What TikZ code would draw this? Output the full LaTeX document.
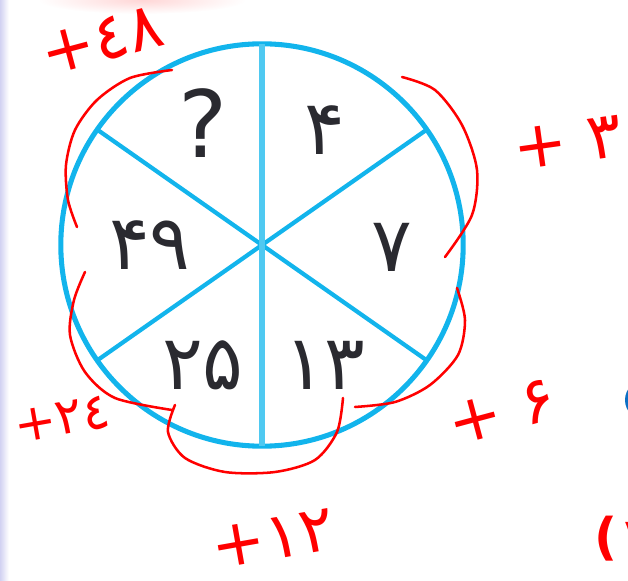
\documentclass[tikz,border=0pt]{standalone}
\usepackage{fontspec}
\usepackage{xcolor}
\usepackage{tikz}
\newfontfamily\fadigits{DejaVu Sans}
\definecolor{cielo}{HTML}{12B4EC}
\definecolor{cielochiaro}{HTML}{4FC9F1}
\definecolor{inchiostro}{HTML}{2A2A30}
\definecolor{lavanda}{HTML}{D2D2F2}
\definecolor{bluscuro}{HTML}{0B6FC4}

\begin{document}
\begin{tikzpicture}[
    rim/.style={draw=cielo,line width=3.6pt},
    spoke/.style={draw=cielo,line width=3pt},
    num/.style={text=inchiostro,font=\fadigits\fontsize{54}{54}\selectfont},
    pen/.style={red,line width=1.8pt,line cap=round},
    note/.style={text=red,font=\fadigits\fontsize{46}{46}\selectfont}]
  \useasboundingbox (-6.55,-8.4) rectangle (9.15,6.125);
  % page edges
  \shade[left color=lavanda,right color=white] (-6.55,-8.4) rectangle (-6.33,6.125);
  \shade[inner color=red!16,outer color=white] (-3.0,6.125) ellipse (2.6 and 0.35);
  \fill[bluscuro] (9.575,-3.875) circle (0.5);
  \node[text=red,font=\fadigits\bfseries\fontsize{36}{36}\selectfont,anchor=west] (pagenum) at (8.2,-7.35) {(۱};
  % the wheel
  \coordinate (c) at (0,0);
  \draw[rim] (c) circle (5.03);
  \foreach \a in {35,145,215,325}
    \draw[spoke] (c) -- (\a:5.03);
  \draw[spoke,draw=cielochiaro,line width=4.5pt] (c) -- (90:5.03);
  \draw[spoke,draw=cielochiaro,line width=4.5pt] (c) -- (270:5.03);
  \node[num,font=\fadigits\fontsize{66}{66}\selectfont] (q) at (-1.475,3.05) {?};
  \node[num] (n4) at (1.575,2.875) {۴};
  \node[num] (n7) at (3.25,-0.05) {۷};
  \node[num] (n13) at (1.575,-3.0) {۱۳};
  \node[num] (n25) at (-1.475,-3.0) {۲۵};
  \node[num] (n49) at (-2.8,0) {۴۹};
  % red notes
  \draw[pen] plot[smooth] coordinates {(3.5,4.2) (4.325,3.875) (5.0,3.0) (5.375,1.875) (5.25,0.75) (4.575,-0.3)};
  \draw[pen] plot[smooth] coordinates {(4.875,-1.075) (5.075,-1.875) (4.9,-2.75) (4.2,-3.5) (3.325,-3.925) (2.325,-4.05)};
  \draw[pen] plot[smooth] coordinates {(2.025,-3.825) (1.875,-4.675) (1.325,-5.375) (0.325,-5.675) (-0.925,-5.675) (-1.925,-5.325) (-2.35,-4.675) (-2.175,-4.0)};
  \draw[pen] plot[smooth] coordinates {(-2.25,-4.125) (-3.675,-3.825) (-4.425,-3.175) (-4.8,-2.25) (-4.7,-1.375) (-4.425,-0.675)};
  \draw[pen] plot[smooth] coordinates {(-4.625,0.45) (-4.85,1.125) (-4.9,2.0) (-4.675,2.875) (-4.125,3.625) (-3.3,4.175) (-2.25,4.375)};
  \node[note,rotate=8] (d3) at (7.65,2.55) {+ ۳};
  \node[note,rotate=15] (d6) at (6.0,-4.175) {+ ۶};
  \node[note,rotate=10] (d12) at (0.275,-7.35) {+۱۲};
  \node[note,rotate=10,font=\fadigits\fontsize{36}{36}\selectfont] (d24) at (-5.0,-4.35) {+۲٤};
  \node[note,rotate=15] (d48) at (-4.0,5.1) {+٤۸};
\end{tikzpicture}
\end{document}
